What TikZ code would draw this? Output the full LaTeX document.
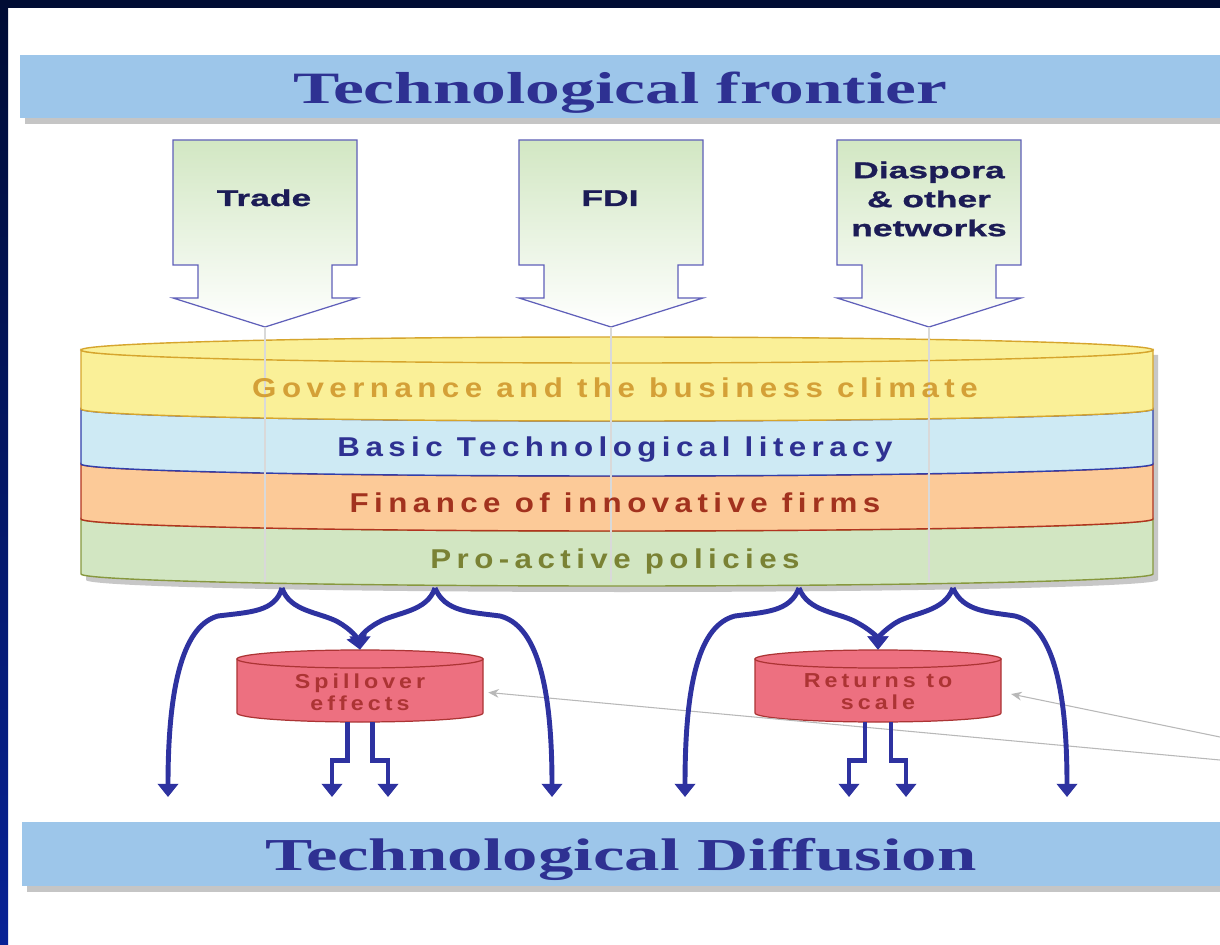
\documentclass[tikz,border=0pt]{standalone}
\usepackage{fontspec}
\usepackage{tikz}
\usetikzlibrary{positioning,calc,arrows.meta,shadows}
\newfontfamily\bannerfont[FakeStretch=1.55]{Liberation Serif}
\newfontfamily\blockfont[FakeStretch=1.55,FakeBold=1.2]{Liberation Sans}
\newfontfamily\layerfont[FakeStretch=1.15,LetterSpace=20]{Liberation Sans}
\definecolor{navy}{RGB}{0,12,52}
\definecolor{navylow}{RGB}{8,34,150}
\definecolor{barblue}{RGB}{157,198,234}
\definecolor{ink}{RGB}{46,49,146}
\definecolor{flow}{RGB}{46,50,160}
\definecolor{blockline}{RGB}{95,95,185}
\definecolor{blockgreen}{RGB}{210,231,195}
\definecolor{blocktext}{RGB}{28,28,86}
\definecolor{govfill}{RGB}{250,240,152}
\definecolor{govline}{RGB}{214,165,45}
\definecolor{govtext}{RGB}{212,160,55}
\definecolor{litfill}{RGB}{206,234,244}
\definecolor{litline}{RGB}{50,62,170}
\definecolor{finfill}{RGB}{252,202,152}
\definecolor{finline}{RGB}{178,52,32}
\definecolor{fintext}{RGB}{162,50,30}
\definecolor{polfill}{RGB}{210,230,194}
\definecolor{polline}{RGB}{135,152,62}
\definecolor{poltext}{RGB}{122,130,52}
\definecolor{drumfill}{RGB}{237,112,128}
\definecolor{drumline}{RGB}{172,52,52}
\newcommand{\layerband}[4]{%
	\path[fill=#3, draw=#4, line width=0.8pt] (81,#1) -- (81,#2)
	arc[start angle=180, end angle=0, x radius=536, y radius=12] -- (1153,#1)
	arc[start angle=0, end angle=180, x radius=536, y radius=12] -- cycle;}
\tikzset{
	banner/.style={fill=barblue, text=ink, text height=23.5pt, text depth=4.2pt,
		drop shadow={shadow xshift=3pt, shadow yshift=-3.5pt, fill=black!45}},
	block/.style={draw=blockline, line width=0.7pt, top color=blockgreen, bottom color=white},
	blocklabel/.style={font=\blockfont\bfseries\fontsize{13}{16.5}\selectfont, text=blocktext, align=center},
	layer/.style={anchor=base, font=\layerfont\bfseries\fontsize{15.5}{18}\selectfont},
	guide/.style={draw=black!15, line width=0.6pt},
	drum/.style={minimum width=4.92cm, minimum height=1.68cm, align=center, text=drumline,
		font=\layerfont\bfseries\fontsize{11.5}{12.5}\selectfont},
	flow/.style={draw=flow, line width=2.8pt, -{Triangle[length=7.5pt,width=11.5pt]}},
	pointer/.style={draw=black!28, line width=0.6pt, -{Stealth[length=6pt,width=5pt]}}
}

\begin{document}
\begin{tikzpicture}[x=0.02cm,y=-0.02cm]
		\useasboundingbox (0,0) rectangle (1220,945);
		\fill[white] (0,0) rectangle (1220,945);
		\fill[navy] (0,0) rectangle (1220,8);
		\shade[top color=navy, bottom color=navylow] (0,0) rectangle (8,945);

		\node[banner, minimum width=24cm, minimum height=1.26cm,
			font=\bannerfont\bfseries\fontsize{25.5}{30}\selectfont] (frontier) at (620,86.5) {Technological frontier};
		\node[banner, minimum width=23.96cm, minimum height=1.28cm,
			font=\bannerfont\bfseries\fontsize{26}{30}\selectfont] (diffusion) at (621,854) {Technological Diffusion};

		\foreach \cx/\n in {265/trade,611/fdi,929/dias}{
			\path[block] (\cx-92,140) -- (\cx+92,140) -- (\cx+92,265) -- (\cx+67,265) -- (\cx+67,298)
			-- (\cx+92,298) -- (\cx,327) -- (\cx-92,298) -- (\cx-67,298) -- (\cx-67,265) -- (\cx-92,265) -- cycle;
			\coordinate (\n-tip) at (\cx,327);
		}
		\node[blocklabel, anchor=base] (trade) at (264,206) {Trade};
		\node[blocklabel, anchor=base] (fdi) at (610,206) {FDI};
		\node[blocklabel] (dias) at (929,199) {Diaspora\\\& other\\networks};

		\fill[black!22] (86,355) -- (86,580) arc[start angle=180, end angle=0, x radius=536, y radius=12] -- (1158,355) -- cycle;
		\layerband{519}{574}{polfill}{polline}
		\layerband{464}{519}{finfill}{finline}
		\layerband{409}{464}{litfill}{litline}
		\layerband{350}{409}{govfill}{govline}
		\path[fill=govfill, draw=govline, line width=0.8pt] (617,350) ellipse[x radius=536, y radius=13];

		\foreach \n in {trade,fdi,dias}
			\draw[guide] (\n-tip) -- ++(0,255);

		\node[layer, text=govtext] (gov) at (615,398) {Governance and the business climate};
		\node[layer, text=ink] (lit) at (615,457) {Basic Technological literacy};
		\node[layer, text=fintext] (fin) at (615,513) {Finance of innovative firms};
		\node[layer, text=poltext] (pol) at (615,568) {Pro-active policies};

		\coordinate (ptrA) at (1220,737);
		\coordinate (ptrB) at (1220,760);

		\foreach \cx in {360,878}{
			\path[fill=drumfill, draw=drumline, line width=0.7pt] (\cx-123,659) -- (\cx-123,713)
			arc[start angle=180, end angle=0, x radius=123, y radius=9] -- (\cx+123,659) -- cycle;
			\path[fill=drumfill, draw=drumline, line width=0.7pt] (\cx,659) ellipse[x radius=123, y radius=9];
		}
		\node[drum] (spill) at (360,692) {Spillover\\effects};
		\node[drum] (ret) at (878,692) {Returns to\\scale};

		\draw[pointer, shorten >=0.2cm] (ptrA) -- (ret.east);
		\draw[pointer, shorten >=0.1cm] (ptrB) -- (spill.east);

		\coordinate (a1) at (282,588);
		\coordinate (a2) at (435,588);
		\coordinate (b1) at (799,588);
		\coordinate (b2) at (953,588);
		\foreach \n/\x in {o1/168,o2/332,o3/388,o4/552,o5/685,o6/849,o7/906,o8/1067}
			\coordinate (\n) at (\x,797);

		\draw[flow] (a1) .. controls (275,612) and (250,612) .. (218,616) .. controls (185,625) and (168,680) .. (o1);
		\draw[flow] (a1) .. controls (290,612) and (320,612) .. (338,622) .. controls (352,630) and (357,638) .. (spill.north);
		\draw[flow] (a2) .. controls (427,612) and (397,612) .. (379,622) .. controls (364,630) and (360,638) .. (spill.north);
		\draw[flow] (a2) .. controls (445,612) and (470,612) .. (500,616) .. controls (535,625) and (552,680) .. (o4);
		\draw[flow] ([shift={(-12.5,-12)}]spill.south) -- ++(0,38) -| (o2);
		\draw[flow] ([shift={(12.5,-12)}]spill.south) -- ++(0,38) -| (o3);

		\draw[flow] (b1) .. controls (790,612) and (765,612) .. (735,616) .. controls (700,625) and (685,680) .. (o5);
		\draw[flow] (b1) .. controls (808,612) and (838,612) .. (856,622) .. controls (871,630) and (878,638) .. (ret.north);
		\draw[flow] (b2) .. controls (944,612) and (915,612) .. (897,622) .. controls (884,630) and (878,638) .. (ret.north);
		\draw[flow] (b2) .. controls (963,612) and (990,612) .. (1015,616) .. controls (1050,625) and (1067,680) .. (o8);
		\draw[flow] ([shift={(-13,-12)}]ret.south) -- ++(0,38) -| (o6);
		\draw[flow] ([shift={(13,-12)}]ret.south) -- ++(0,38) -| (o7);
\end{tikzpicture}
\end{document}
